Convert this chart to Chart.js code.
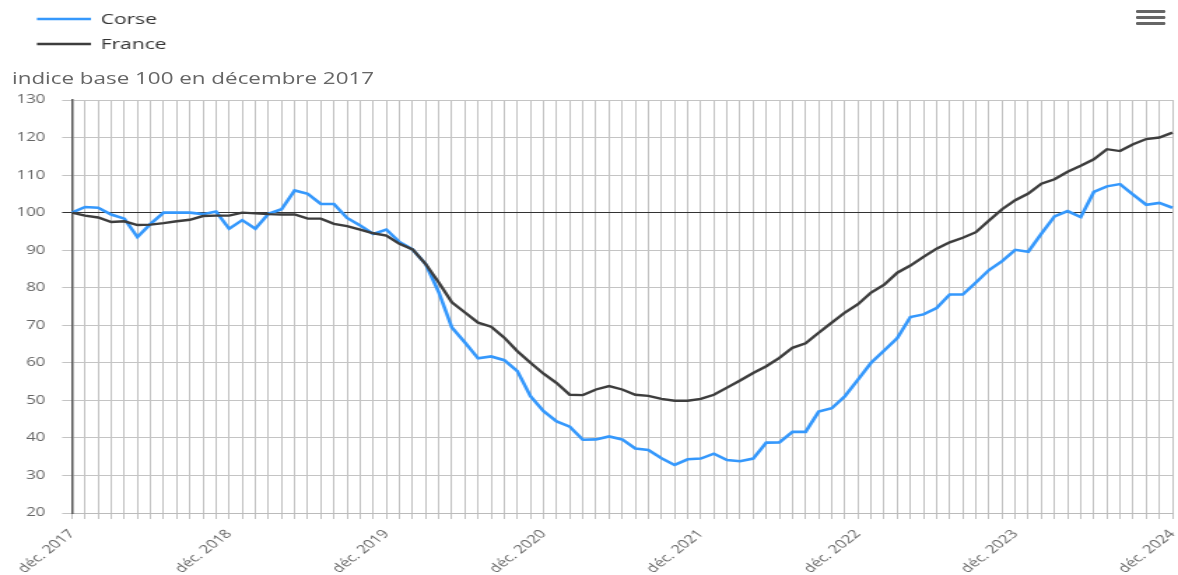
<!DOCTYPE html>
<html><head><meta charset="utf-8">
<script src="https://cdn.jsdelivr.net/npm/chart.js@4.4.1/dist/chart.umd.min.js"></script>
<style>
html,body{margin:0;padding:0;background:#fff;overflow:hidden;}
#wrap{position:absolute;left:0;top:0;width:842px;height:575px;transform:scaleX(1.39905);transform-origin:0 0;font-family:'Open Sans',sans-serif;}
#c{position:absolute;left:0;top:0;}
#title{position:absolute;left:8.6px;top:68px;line-height:20px;font-size:16px;color:#666;white-space:nowrap;}
.bar{position:absolute;left:811.5px;width:21.5px;height:3px;background:#666;border-radius:1px;}
</style></head>
<body>
<div id="wrap">
  <canvas id="c" width="842" height="575" style="width:842px;height:575px"></canvas>
  <div id="title">indice base 100 en décembre 2017</div>
  <div class="bar" style="top:10px"></div>
  <div class="bar" style="top:15.8px"></div>
  <div class="bar" style="top:21.8px"></div>
</div>
<script>
const months = ['janv.','févr.','mars','avr.','mai','juin','juil.','août','sept.','oct.','nov.','déc.'];
const categories = ['déc. 2017'];
for (let y = 2018; y <= 2024; y++) for (const m of months) categories.push(m + ' ' + y);

const corse = [100,101.5,101.3,99.5,98.4,93.5,97,100,100,100,99.6,100.3,95.7,98,95.7,99.7,100.9,105.9,105,102.3,102.3,98.6,96.6,94.3,95.5,92.2,90.2,86.3,78.8,69.4,65.4,61.2,61.7,60.7,57.8,51.1,47.1,44.4,43,39.5,39.6,40.4,39.6,37.2,36.8,34.6,32.8,34.3,34.5,35.8,34.1,33.8,34.5,38.75,38.8,41.6,41.6,47,47.9,51.1,55.5,60,63.3,66.6,72.2,72.9,74.6,78.2,78.2,81.4,84.7,87.1,90.1,89.6,94.4,99,100.4,98.8,105.5,107,107.6,104.8,102.1,102.6,101.3];
const france = [100,99.2,98.7,97.5,97.7,96.7,96.8,97.2,97.7,98.1,99.1,99.2,99.2,100,99.8,99.6,99.5,99.5,98.4,98.4,97,96.4,95.5,94.5,93.9,91.7,90.2,86.3,81.4,76.1,73.4,70.7,69.6,66.7,63.1,60,57.1,54.6,51.5,51.4,52.9,53.8,52.9,51.5,51.2,50.4,49.9,49.9,50.4,51.5,53.4,55.3,57.3,59.1,61.3,64,65.2,68,70.7,73.4,75.6,78.7,80.8,84,85.9,88.2,90.4,92.1,93.3,94.8,97.9,100.9,103.3,105.1,107.7,108.9,110.9,112.5,114.2,116.9,116.4,118.2,119.6,120,121.3];

const seriesNames = ['Corse','France'];
const seriesColors = ['#3598fc','#3d3d3d'];
const yTicks = {min:20, max:130, step:10};

Chart.defaults.font.family = "'Open Sans', sans-serif";

const legendPlugin = {
  id: 'vlegend',
  afterDraw(chart) {
    const ctx = chart.ctx;
    ctx.save();
    chart.data.datasets.forEach((ds, i) => {
      const y = 19 + i * 25;
      ctx.strokeStyle = ds.borderColor;
      ctx.lineWidth = 2.6;
      ctx.beginPath();
      ctx.moveTo(26.4, y);
      ctx.lineTo(65, y);
      ctx.stroke();
      ctx.fillStyle = '#333';
      ctx.font = "15px 'Open Sans', sans-serif";
      ctx.textBaseline = 'middle';
      ctx.textAlign = 'left';
      ctx.fillText(ds.label, 72, y + 0.5);
    });
    ctx.restore();
  }
};

const chart = new Chart(document.getElementById('c'), {
  type: 'line',
  data: {
    labels: categories,
    datasets: [
      {label: seriesNames[0], data: corse, borderColor: seriesColors[0], backgroundColor: seriesColors[0], borderWidth: 2.6, pointRadius: 0, tension: 0, order: 1},
      {label: seriesNames[1], data: france, borderColor: seriesColors[1], backgroundColor: seriesColors[1], borderWidth: 2.4, pointRadius: 0, tension: 0, order: 0}
    ]
  },
  options: {
    responsive: false,
    animation: false,
    devicePixelRatio: 1,
    layout: {padding: {top: 100, right: 4, left: 0, bottom: 0}},
    plugins: {legend: {display: false}, tooltip: {enabled: false}, title: {display: false}},
    scales: {
      x: {
        grid: {color: '#c2c2c2', lineWidth: 1, tickLength: 6, drawTicks: true},
        border: {color: '#bbbbbb'},
        ticks: {
          autoSkip: false, maxRotation: 47, minRotation: 47, padding: 8,
          color: '#666', font: {size: 12},
          callback: function (v, i) { return i % 12 === 0 ? this.getLabelForValue(v) : ''; }
        },
        afterFit: s => { s.height = 62; s.paddingRight = 0; s.paddingLeft = 0; }
      },
      y: {
        min: yTicks.min, max: yTicks.max,
        ticks: {stepSize: yTicks.step, color: '#666', font: {size: 12}, padding: 12},
        grid: {color: c => (c.tick && c.tick.value === 100) ? '#333' : '#c4c4c4', lineWidth: 1, tickLength: 7},
        border: {color: '#555', width: 1.5},
        afterFit: s => { s.width = 51.4; }
      }
    }
  },
  plugins: [legendPlugin]
});
</script>
</body></html>
